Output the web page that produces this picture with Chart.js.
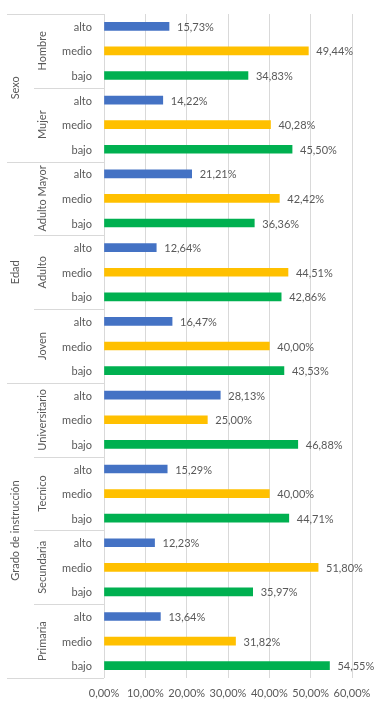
<!DOCTYPE html>
<html>
<head>
<meta charset="utf-8">
<script src="https://cdn.jsdelivr.net/npm/chart.js@4"></script>
<style>
html,body{margin:0;padding:0;background:#fff;}
#wrap{width:385px;height:709px;position:relative;}
</style>
</head>
<body>
<div id="wrap"><canvas id="c"></canvas></div>
<script>
const groups = ['Sexo', 'Edad', 'Grado de instrucción'];
const subgroups = [['Hombre', 'Mujer'], ['Adulto Mayor', 'Adulto', 'Joven'], ['Universitario', 'Tecnico', 'Secundaria', 'Primaria']];
const levels = ['alto', 'medio', 'bajo'];
const alto  = [15.73, 14.22, 21.21, 12.64, 16.47, 28.13, 15.29, 12.23, 13.64];
const medio = [49.44, 40.28, 42.42, 44.51, 40.00, 25.00, 40.00, 51.80, 31.82];
const bajo  = [34.83, 45.50, 36.36, 42.86, 43.53, 46.88, 44.71, 35.97, 54.55];
const xMin = 0, xMax = 60, xStep = 10;

const seriesValues = [alto, medio, bajo];
const seriesColors = ['#4472C4', '#FFC000', '#00B050'];
const flatSub = subgroups.flat();
const labels = [];
flatSub.forEach(() => levels.forEach(l => labels.push(l)));
const datasets = levels.map((lev, li) => {
  const data = [];
  flatSub.forEach((s, si) => {
    levels.forEach((l, lj) => data.push(lj === li ? seriesValues[li][si] : null));
  });
  return { label: lev, data, backgroundColor: seriesColors[li], barThickness: 8 };
});

const FONT = 'Lato, "Open Sans", sans-serif';
const TXT = '#595959';
const LINE = '#d9d9d9';
const fmt = v => v.toFixed(2).replace('.', ',') + '%';

const valueLabels = {
  id: 'valueLabels',
  afterDatasetsDraw(chart) {
    const ctx = chart.ctx;
    ctx.save();
    ctx.font = '11px ' + FONT;
    ctx.fillStyle = TXT;
    ctx.textAlign = 'left';
    ctx.textBaseline = 'middle';
    chart.data.datasets.forEach((ds, di) => {
      const meta = chart.getDatasetMeta(di);
      meta.data.forEach((el, i) => {
        const v = ds.data[i];
        if (v === null || v === undefined) return;
        ctx.fillText(fmt(v), el.x + 8, el.y + 1);
      });
    });
    ctx.restore();
  }
};

const hierarchy = {
  id: 'hierarchy',
  afterDraw(chart) {
    const ctx = chart.ctx;
    const ys = chart.scales.y;
    const area = chart.chartArea;
    const step = ys.getPixelForValue(1) - ys.getPixelForValue(0);
    const edge = i => ys.getPixelForValue(i) - step / 2;
    const xAxis = area.left;
    const xGroup = 7, xSub = 34;
    ctx.save();
    ctx.font = '11px ' + FONT;
    ctx.fillStyle = TXT;
    // level labels
    ctx.textAlign = 'right';
    ctx.textBaseline = 'middle';
    labels.forEach((l, i) => ctx.fillText(l, xAxis - 12, ys.getPixelForValue(i) + 1));
    // lines and rotated labels
    ctx.strokeStyle = LINE;
    ctx.lineWidth = 1;
    const hline = (x0, y) => {
      ctx.beginPath();
      ctx.moveTo(x0, Math.round(y) + 0.5);
      ctx.lineTo(xAxis, Math.round(y) + 0.5);
      ctx.stroke();
    };
    let idx = 0;
    groups.forEach((g, gi) => {
      const gStart = idx;
      hline(xGroup, edge(gStart));
      subgroups[gi].forEach((s, si) => {
        const sStart = idx;
        if (si > 0) hline(xSub, edge(sStart));
        const sEnd = sStart + levels.length;
        const cy = (edge(sStart) + edge(sEnd)) / 2;
        ctx.save();
        ctx.translate(42, cy);
        ctx.rotate(-Math.PI / 2);
        ctx.textAlign = 'center';
        ctx.textBaseline = 'middle';
        ctx.fillText(s, 0, 0);
        ctx.restore();
        idx = sEnd;
      });
      const cy = (edge(gStart) + edge(idx)) / 2;
      ctx.save();
      ctx.translate(15, cy);
      ctx.rotate(-Math.PI / 2);
      ctx.textAlign = 'center';
      ctx.textBaseline = 'middle';
      ctx.fillText(g, 0, 0);
      ctx.restore();
    });
    hline(xGroup, edge(idx));
    ctx.restore();
  }
};

new Chart(document.getElementById('c'), {
  type: 'bar',
  data: { labels, datasets },
  options: {
    indexAxis: 'y',
    responsive: true,
    maintainAspectRatio: false,
    animation: false,
    layout: { padding: { top: 14, right: 33, left: 0, bottom: 0 } },
    plugins: { legend: { display: false }, tooltip: { enabled: false } },
    scales: {
      x: {
        stacked: true,
        min: xMin, max: xMax,
        grid: { color: LINE, drawTicks: false },
        border: { display: false },
        ticks: { stepSize: xStep, padding: 9, color: TXT, font: { family: FONT, size: 11 }, callback: v => fmt(v), maxRotation: 0 },
        afterFit: s => { s.height = 31; }
      },
      y: {
        stacked: true,
        grid: { display: false },
        border: { display: false },
        ticks: { display: false },
        afterFit: s => { s.width = 104; }
      }
    }
  },
  plugins: [valueLabels, hierarchy]
});
</script>
</body>
</html>
